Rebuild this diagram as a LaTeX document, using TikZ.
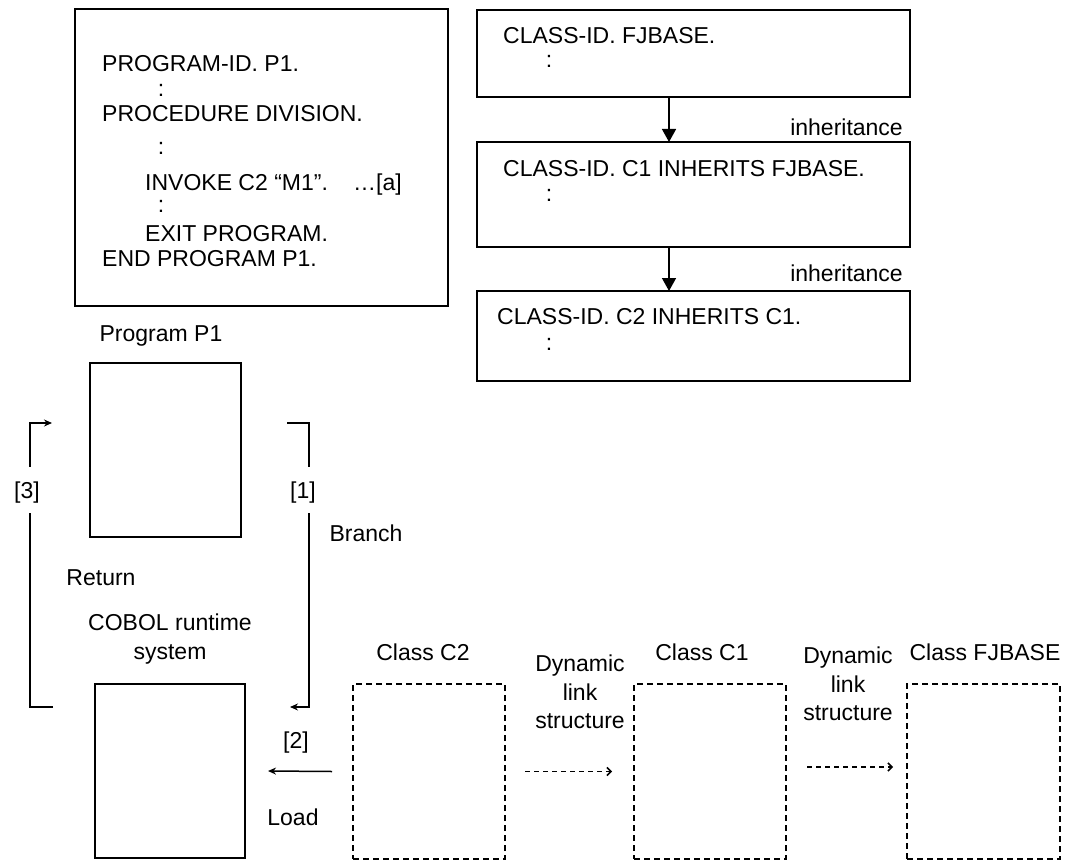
\documentclass[tikz,border=0pt]{standalone}
\usepackage{fontspec}
\setmainfont{Liberation Sans}
\usetikzlibrary{arrows.meta}

\tikzset{
  box/.style={draw, line width=1.5pt, inner sep=0pt, outer sep=0pt},
  dbox/.style={box, dash pattern=on 6pt off 4pt},
  txt/.style={inner sep=0pt, text height=16.5pt, text depth=0pt},
  dots/.style={inner sep=0pt, text height=12pt, text depth=0pt},
  multi/.style={inner sep=0pt, align=center, anchor=north},
  line/.style={line width=1.5pt},
  flow/.style={line width=1.5pt, -{Stealth[length=8pt,width=7pt]}},
  link/.style={line width=1.5pt, dash pattern=on 5pt off 4pt, -{Straight Barb[length=4pt,width=8pt]}},
  inh/.style={line width=1.5pt, -{Triangle[length=13pt,width=14pt]}}
}

\begin{document}
\begin{tikzpicture}[x=1pt, y=-1pt, font=\fontsize{23}{28.5}\selectfont]
    \useasboundingbox (0,0) rectangle (1070,861);

    % source of program P1
    \node[box, minimum width=373, minimum height=297] (prog) at (261.5,157.5) {};
    \node[txt, anchor=west] (pl1) at (102,63) {PROGRAM-ID. P1.};
    \node[dots] (pd1) at (161,91) {:};
    \node[txt, anchor=west] (pl2) at (102,113) {PROCEDURE DIVISION.};
    \node[dots] (pd2) at (161,149) {:};
    \node[txt, anchor=west] (pl3) at (145,182) {INVOKE C2 “M1”.};
    \node[txt, anchor=west] (pla) at (353,182) {…[a]};
    \node[dots] (pd3) at (161,206) {:};
    \node[txt, anchor=west] (pl4) at (145,233) {EXIT PROGRAM.};
    \node[txt, anchor=west] (pl5) at (102,258) {END PROGRAM P1.};

    % class sources
    \node[box, minimum width=433, minimum height=87] (idbase) at (693.5,53.5) {};
    \node[txt, anchor=west] (tbase) at (503,35) {CLASS-ID. FJBASE.};
    \node[dots] (dbase) at (549,62) {:};
    \node[box, minimum width=433, minimum height=105] (idcone) at (693.5,194.5) {};
    \node[txt, anchor=west] (tcone) at (503,168) {CLASS-ID. C1 INHERITS FJBASE.};
    \node[dots] (dcone) at (549,195) {:};
    \node[box, minimum width=433, minimum height=90] (idctwo) at (693.5,336) {};
    \node[txt, anchor=west] (tctwo) at (497,316) {CLASS-ID. C2 INHERITS C1.};
    \node[dots] (dctwo) at (549,344) {:};
    \draw[inh] ([xshift=-24.5pt]idbase.south) -- ([xshift=-24.5pt]idcone.north);
    \draw[inh] ([xshift=-24.5pt]idcone.south) -- ([xshift=-24.5pt]idctwo.north);
    \node[txt, anchor=east] (inh1) at (903,127) {inheritance};
    \node[txt, anchor=east] (inh2) at (903,273) {inheritance};

    % run time
    \node[txt] (pname) at (161,333) {Program P1};
    \node[box, minimum width=151, minimum height=174] (pone) at (165.5,450) {};
    \node[multi] (rtsname) at (170,613.75) {COBOL runtime\\system};
    \node[box, minimum width=150, minimum height=174] (rts) at (170,771) {};

    \node[txt] (cname2) at (423,652) {Class C2};
    \node[dbox, minimum width=152, minimum height=175] (clsctwo) at (429,771.5) {};
    \node[txt] (cname1) at (702,652) {Class C1};
    \node[dbox, minimum width=152, minimum height=175] (clscone) at (710,771.5) {};
    \node[txt] (cnameb) at (985,652) {Class FJBASE};
    \node[dbox, minimum width=153, minimum height=175] (clsbase) at (983.5,771.5) {};

    \node[multi] (dyn1) at (580,654.75) {Dynamic\\link\\structure};
    \node[multi] (dyn2) at (848,646.75) {Dynamic\\link\\structure};
    \draw[link] ([xshift=20pt]clsctwo.east) -- ([xshift=-22pt]clscone.west);
    \draw[link] ([xshift=21pt,yshift=4.5pt]clscone.east) -- ([xshift=-14pt,yshift=4.5pt]clsbase.west);

    % [1] branch
    \coordinate (brA) at (287,423);
    \coordinate (brB) at (290,707);
    \node[txt, inner ysep=14.75pt] (lone) at (303,490) {[1]};
    \draw[line] (brA) -| ([xshift=6pt]lone.north);
    \draw[flow] ([xshift=6pt]lone.south) |- (brB);
    \node[txt] (branch) at (366,533) {Branch};

    % [2] load
    \node[txt] (ltwo) at (296,740) {[2]};
    \draw[flow] ([xshift=-21pt]clsctwo.west) -- ([xshift=23pt]rts.east);
    \node[txt] (load) at (293,817) {Load};

    % [3] return
    \coordinate (rtA) at (53,707);
    \coordinate (rtB) at (52,423);
    \node[txt, inner ysep=14.75pt] (lthree) at (27,490) {[3]};
    \draw[line] (rtA) -| ([xshift=3pt]lthree.south);
    \draw[flow] ([xshift=3pt]lthree.north) |- (rtB);
    \node[txt] (return) at (101,577) {Return};
\end{tikzpicture}
\end{document}
